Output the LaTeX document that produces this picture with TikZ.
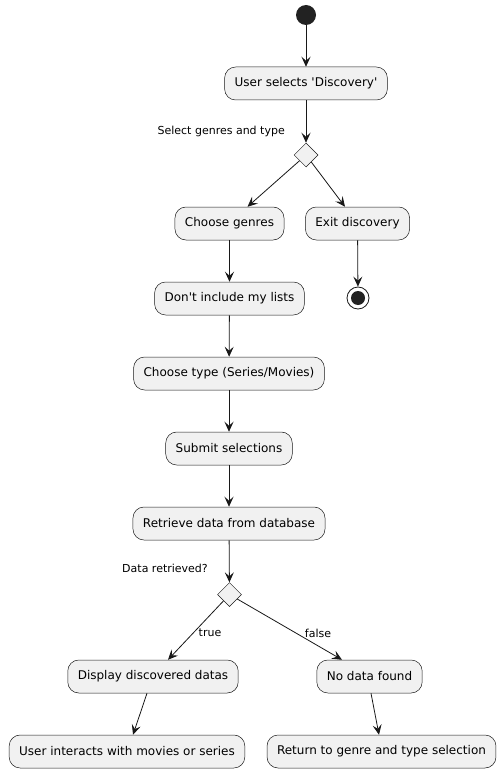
\documentclass[tikz,border=0pt]{standalone}
\usepackage{fontspec}
\setmainfont{DejaVu Sans}
\usetikzlibrary{positioning,calc,shapes.geometric,arrows.meta}

\definecolor{boxfill}{HTML}{F1F1F1}
\definecolor{boxline}{HTML}{181818}
\definecolor{dotfill}{HTML}{222222}

\begin{document}
\begin{tikzpicture}[x=1pt,y=-1pt,font=\fontsize{12}{14}\selectfont,
  act/.style={draw=boxline,line width=0.5pt,fill=boxfill,rounded corners=11pt,
    minimum height=33pt,inner xsep=10pt,inner ysep=0pt},
  choice/.style={draw=boxline,line width=0.5pt,fill=boxfill,diamond,aspect=1,
    minimum width=24pt,minimum height=24pt,inner sep=0pt},
  guard/.style={font=\fontsize{11}{13}\selectfont,inner sep=1pt},
  flow/.style={draw=boxline,line width=0.8pt,
    -{Stealth[length=10pt,width=9pt,inset=4pt]}}]
\useasboundingbox (0,0) rectangle (502,773);
% start and first step
\node[circle,fill=dotfill,minimum size=20pt,inner sep=0pt] (start) at (306,15) {};
\node[act] (discovery) at (306,83.5) {User selects \textquotesingle Discovery\textquotesingle};
\node[choice] (pick) at (306,155) {};
\node[guard,anchor=east] (picklbl) at (286,131) {Select genres and type};
% left branch
\node[act] (genres) at (229.5,223.5) {Choose genres};
\node[act] (nolists) at (229.5,298.5) {Don\textquotesingle t include my lists};
\node[act] (type) at (229,373.5) {Choose type (Series/Movies)};
\node[act] (submit) at (229,448.5) {Submit selections};
\node[act] (fetch) at (229,523.5) {Retrieve data from database};
% right branch
\node[act] (exit) at (357.5,223.5) {Exit discovery};
\node[circle,draw=boxline,line width=0.8pt,fill=white,minimum size=22pt,inner sep=0pt] (stop) at (358,298) {};
\node[circle,fill=dotfill,minimum size=14pt,inner sep=0pt] at (stop) {};
% result check
\node[choice] (check) at (229.5,594.5) {};
\node[guard,anchor=east] (checklbl) at (209,568) {Data retrieved?};
\node[act] (show) at (153,676.5) {Display discovered datas};
\node[act] (empty) at (369.5,676.5) {No data found};
\node[act] (interact) at (127,751.5) {User interacts with movies or series};
\node[act] (back) at (381.5,751.5) {Return to genre and type selection};
\node[guard] (yes) at (210,633) {true};
\node[guard] (no) at (318,633) {false};

\draw[flow] (start) -- (discovery);
\draw[flow] (discovery) -- (pick);
\draw[flow] (pick) -- ([xshift=18pt]genres.north);
\draw[flow] (pick) -- ([xshift=-12.5pt]exit.north);
\draw[flow] (exit) -- (stop);
\draw[flow] (genres) -- (nolists);
\draw[flow] (nolists) -- (type);
\draw[flow] (type) -- (submit);
\draw[flow] (submit) -- (fetch);
\draw[flow] (fetch) -- (check);
\draw[flow] (check) -- ([xshift=15pt]show.north);
\draw[flow] (check) -- ([xshift=-27.5pt]empty.north);
\draw[flow] ([xshift=-6pt]show.south) -- ([xshift=6pt]interact.north);
\draw[flow] ([xshift=1.5pt]empty.south) -- ([xshift=-2.5pt]back.north);
\end{tikzpicture}
\end{document}
